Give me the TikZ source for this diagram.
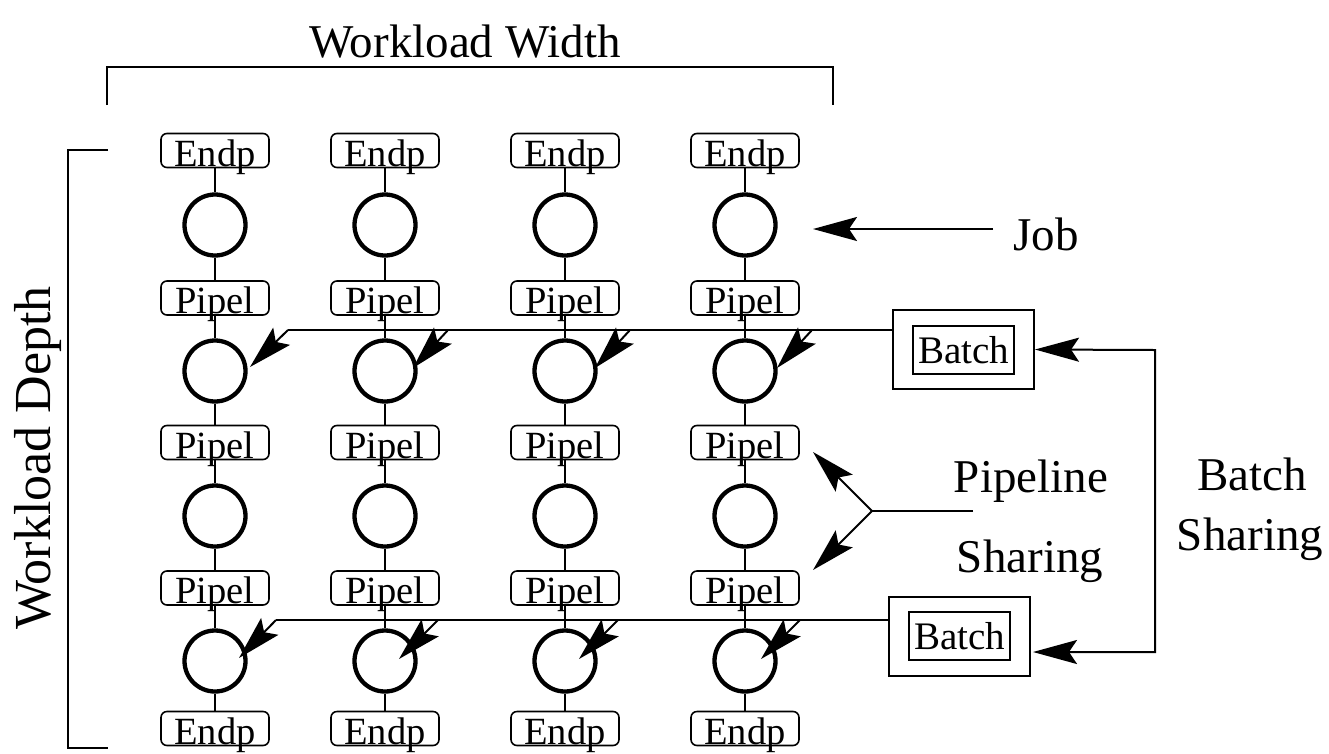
\documentclass[tikz,border=0pt]{standalone}
\usepackage{fontspec}
\setmainfont{Liberation Serif}
\usetikzlibrary{arrows.meta}
\begin{document}
\begin{tikzpicture}[x=1pt,y=-1pt,
  box/.style={draw,line width=1.6pt,rounded corners=6pt,minimum width=108pt,
    inner xsep=0pt,inner ysep=1.5pt,text height=31pt,text depth=0pt,
    font=\fontsize{38.5}{44}\selectfont},
  job/.style={draw,circle,line width=4.3pt,minimum size=61pt,inner sep=0pt},
  link/.style={line width=2pt},
  big/.style={font=\fontsize{47}{56}\selectfont},
  head/.tip={Stealth[length=44pt,width=24pt,inset=8pt]},
  arr/.style={line width=2pt,-head},
  batchin/.style={draw,line width=2pt,minimum width=101pt,minimum height=48pt,
    inner sep=0pt,font=\fontsize{39}{44}\selectfont},
  batchout/.style={draw,line width=2pt,minimum width=141pt,minimum height=79pt,inner sep=0pt},
]
\useasboundingbox (0,0) rectangle (1329,753);

% the grid of jobs, end points and pipelines
\foreach \x [count=\i] in {215,385,565,745} {
  \node[box] (t\i)  at (\x,150.5) {Endp};
  \node[job] (j1\i) at (\x,225) {};
  \node[box] (p1\i) at (\x,298) {Pipel};
  \node[job] (j2\i) at (\x,371) {};
  \node[box] (p2\i) at (\x,442.5) {Pipel};
  \node[job] (j3\i) at (\x,516) {};
  \node[box] (p3\i) at (\x,588) {Pipel};
  \node[job] (j4\i) at (\x,661) {};
  \node[box] (b\i)  at (\x,728.5) {Endp};
  \draw[link] (t\i) -- (j1\i) -- (p1\i) -- (j2\i) -- (p2\i) -- (j3\i)
              -- (p3\i) -- (j4\i) -- (b\i);
}

% batch boxes
\node[batchout] (bo1) at (963.5,349.5) {};
\node[batchin]  (bi1) at (963.5,350) {Batch};
\node[batchout] (bo2) at (959.5,636) {};
\node[batchin]  (bi2) at (959.5,636) {Batch};

% upper batch feeding the second row of jobs
\coordinate (s21) at (288,330);  \coordinate (e21) at (250,367);
\coordinate (s22) at (448,330);  \coordinate (e22) at (413,368);
\coordinate (s23) at (630,330);  \coordinate (e23) at (595,368);
\coordinate (s24) at (812,330);  \coordinate (e24) at (777,368);
\coordinate (h1) at (893,330);
\draw[link] (h1) -- (s21);
\foreach \i in {1,...,4} \draw[arr] (s2\i) -- (e2\i);

% lower batch feeding the fourth row of jobs
\coordinate (s41) at (276,620);  \coordinate (e41) at (239,658);
\coordinate (s42) at (438,620);  \coordinate (e42) at (399,659);
\coordinate (s43) at (618,620);  \coordinate (e43) at (579,659);
\coordinate (s44) at (800,620);  \coordinate (e44) at (761,659);
\coordinate (h2) at (888,620);
\draw[link] (h2) -- (s41);
\foreach \i in {1,...,4} \draw[arr] (s4\i) -- (e4\i);

% job pointer
\coordinate (jobs) at (993,229);
\coordinate (jobe) at (813,229);
\draw[arr] (jobs) -- (jobe);
\node[big,anchor=base west,inner sep=0pt] (joblab) at (1013,250) {Job};

% pipeline sharing fork
\coordinate (pf) at (973,511);
\coordinate (pk) at (872,511);
\coordinate (pu) at (813,452);
\coordinate (pd) at (813,570);
\draw[link] (pf) -- (pk);
\draw[arr] (pk) -- (pu);
\draw[arr] (pk) -- (pd);
\node[big,anchor=base,inner sep=0pt] (pl1) at (1031,492) {Pipeline};
\node[big,anchor=base,inner sep=0pt] (pl2) at (1030,572) {Sharing};

% batch sharing loop
\coordinate (bq1) at (1155,350);
\coordinate (bq2) at (1155,652);
\coordinate (bt2) at (1033,652);
\draw[link,head-head] (bo1.east) -- (bq1) -- (bq2) -- (bt2);
\node[big,anchor=base,inner sep=0pt] (bl1) at (1252,490) {Batch};
\node[big,anchor=base,inner sep=0pt] (bl2) at (1250,550) {Sharing};

% width bracket
\draw[link] (107,105) -- (107,67) -- (833,67) -- (833,105);
\node[big,anchor=base,inner sep=0pt] (wl) at (465,57) {Workload Width};

% depth bracket
\draw[link] (108,150) -- (68,150) -- (68,748) -- (108,748);
\node[font=\fontsize{52}{60}\selectfont,rotate=90,anchor=base,inner sep=0pt] (dl) at (50,458) {Workload Depth};
\end{tikzpicture}
\end{document}
